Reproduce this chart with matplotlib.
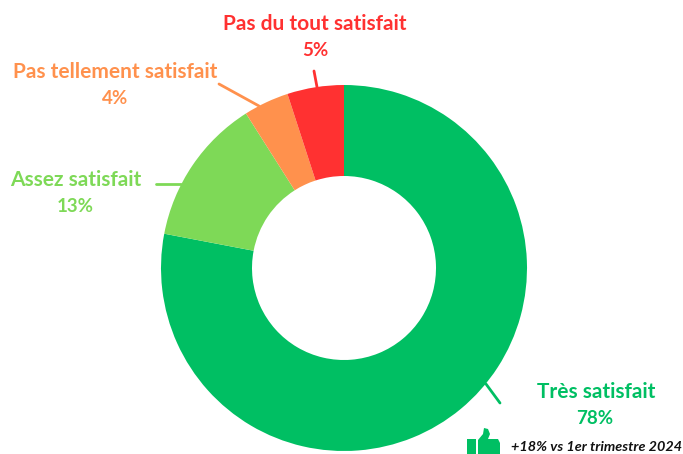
import matplotlib
matplotlib.use('Agg')
import matplotlib.pyplot as plt
from matplotlib.patches import Polygon, Rectangle

# data
labels = ['Très satisfait', 'Assez satisfait', 'Pas tellement satisfait', 'Pas du tout satisfait']
values = [78, 13, 4, 5]
colors = ['#00BF63', '#7ED957', '#FF914D', '#FF3131']
note = '+18% vs 1er trimestre 2024'

plt.rcParams['font.family'] = ['Lato', 'DejaVu Sans']

W = 683
H = 454
fig = plt.figure(figsize=(W / 100, H / 100), dpi=100)
ax = fig.add_axes([0, 0, 1, 1])

# pie, pixel units with y counted from the top of the picture
ax.pie(values, colors=colors, startangle=90, counterclock=False,
       center=(344, H - 268), radius=183,
       wedgeprops=dict(width=91, linewidth=0))
ax.set_xlim(0, W)
ax.set_ylim(0, H)
ax.set_aspect('equal')
ax.axis('off')

# label centres and leader lines, for each slice
label_pos = [(596, 392), (76, 180), (115, 72), (315, 24)]
pct_pos = [(595, 418), (75, 206), (115, 98), (315, 50)]
leaders = [((486, 384), (500, 403)), ((181, 184), (156, 184)),
           ((259, 106), (219, 84)), ((317, 87), (314, 71))]

for i in range(len(labels)):
    x, y = label_pos[i]
    ax.text(x, H - y, labels[i], color=colors[i], fontsize=15, fontweight='bold',
            ha='center', va='center')
    x, y = pct_pos[i]
    ax.text(x, H - y, str(values[i]) + '%', color=colors[i], fontsize=13.5, fontweight='bold',
            ha='center', va='center')
    a, b = leaders[i]
    ax.plot([a[0], b[0]], [H - a[1], H - b[1]], color=colors[i], lw=2, solid_capstyle='round')

# thumbs up icon
icon = '#00BF63'
ax.add_patch(Rectangle((467, 0), 9, H - 439, color=icon, lw=0))
ax.add_patch(Polygon([(478, 0), (478, H - 440), (483, H - 434), (484, H - 428),
                      (488, H - 429), (490, H - 434), (488, H - 439),
                      (498, H - 439), (500, H - 443), (500, 0)],
                     closed=True, color=icon, lw=0))

ax.text(511, H - 447, note, color='#111111', fontsize=10.4, fontweight='bold',
        fontstyle='italic', ha='left', va='center')

fig.savefig('out.png', dpi=100, facecolor='white')
